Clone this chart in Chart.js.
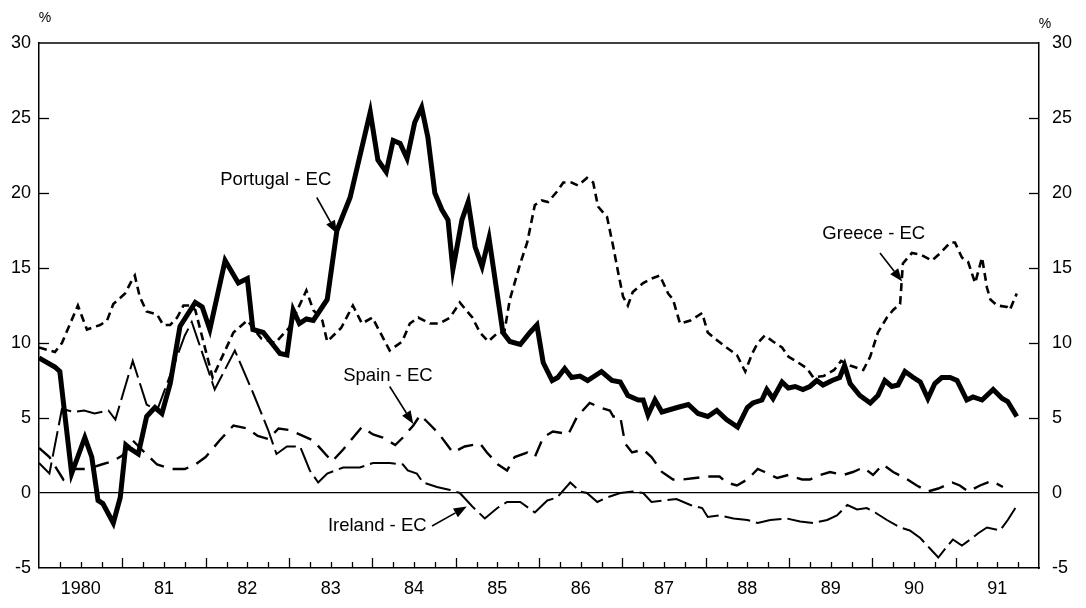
<!DOCTYPE html>
<html><head><meta charset="utf-8">
<script src="https://cdn.jsdelivr.net/npm/chart.js@4/dist/chart.umd.min.js"></script>
<style>html,body{margin:0;padding:0;background:#fff}#wrap{width:1086px;height:608px;position:relative}</style>
</head><body><div id="wrap"><canvas id="c" width="1086" height="608"></canvas></div>
<script>
// x = months since January 1980
const yearLabels = ['1980','81','82','83','84','85','86','87','88','89','90','91'];
const yTicks = [-5,0,5,10,15,20,25,30];

const portugalMonths = [0,2.3,3,4.7,6.6,7.6,8.5,9.2,10.7,11.7,12.5,13,14.3,15.5,16.7,17.7,18.9,20.3,22.5,23.5,24.6,26.8,28.7,30,30.8,32.3,33.5,34.7,35.7,36.6,37.5,38.5,39.5,40.5,41.5,42.9,44.8,47.7,48.8,50,51,52,53,54.1,55.1,56,57,58,58.9,59.6,60.9,61.8,62.8,63.8,64.8,66.1,66.8,67.8,69.3,70.7,71.7,72.6,73.9,74.7,75.7,76.7,77.9,79,81,82.5,83.7,84.8,86.3,87,87.7,88.7,89.7,91.9,93.5,94.9,96.3,97.6,99,100.6,102,102.8,104.1,104.8,105.7,107,107.9,108.9,110,111,112,112.9,114.2,115.3,116,116.8,118.2,119.7,120.8,121.8,122.8,123.7,124.7,125.9,126.9,128,129,130,131.2,132.2,133.6,134.5,135.8,137.4,138.7,139.5,140.8];
const portugalValues = [9.0,8.4,8.1,1.3,3.7,2.4,-0.5,-0.7,-2.0,-0.3,3.2,3.0,2.6,5.1,5.7,5.3,7.3,11.1,12.7,12.4,10.9,15.5,14.0,14.3,10.9,10.7,10.0,9.3,9.2,12.2,11.3,11.6,11.5,12.2,12.9,17.5,19.7,25.4,22.2,21.4,23.5,23.3,22.3,24.7,25.7,23.7,20.0,18.9,18.2,14.9,18.2,19.4,16.4,15.1,17.0,12.9,10.7,10.1,9.9,10.7,11.2,8.7,7.5,7.7,8.3,7.7,7.8,7.5,8.1,7.5,7.4,6.5,6.2,6.2,5.2,6.2,5.4,5.7,5.9,5.3,5.1,5.5,4.9,4.4,5.7,6.0,6.2,6.9,6.3,7.4,7.0,7.1,6.9,7.1,7.5,7.2,7.5,7.7,8.5,7.3,6.5,6.0,6.5,7.5,7.1,7.2,8.1,7.7,7.4,6.3,7.3,7.7,7.7,7.5,6.2,6.4,6.2,6.9,6.3,6.1,5.1];

const greeceMonths = [0,2.3,3.3,5.6,6.9,8.8,9.8,10.7,12.4,13.4,13.8,14.5,15.5,17,17.9,18.9,19.9,20.8,21.7,22.5,25,28,30,32,34,36,37.5,38.5,39.5,40.8,41.5,43.5,45.2,46.5,48,50.5,52.3,53.4,54.6,56.3,57.7,59.2,60.6,62.4,63.5,64.7,66.1,67,67.8,69.3,70.3,71.4,72.4,73.3,74.6,75.5,76.7,77.6,78.9,79.8,80.5,81.8,82.7,83.4,84.1,84.8,85.5,87,88.2,89.4,90.6,91.3,92.3,93.8,95.5,96.3,97.6,99,100.5,101.7,102.7,103.5,104.5,105.7,107,107.9,109.3,110.6,111.5,113,114.5,115.5,116.8,118.7,119.7,120.8,122.1,123,124,124.4,125.7,126.9,128.6,129.8,131.2,131.9,132.9,133.8,134.8,135.8,136.5,137,138,139.4,139.8,140.8];
const greeceValues = [9.7,9.4,10.0,12.5,10.9,11.2,11.5,12.6,13.3,14.2,14.5,13.1,12.1,11.9,11.2,11.2,11.7,12.5,12.5,12.2,7.7,10.7,11.5,10.3,10.0,11.0,12.5,13.5,12.2,11.5,10.1,11.0,12.5,11.3,11.7,9.5,10.1,11.3,11.7,11.3,11.3,11.7,12.7,11.7,10.7,10.1,10.7,10.7,12.9,15.3,16.7,19.2,19.5,19.4,20.1,20.7,20.7,20.5,21.0,20.7,19.1,18.4,16.4,14.7,13.1,12.5,13.4,14.0,14.3,14.5,13.3,12.9,11.3,11.5,12.0,10.7,10.2,9.7,9.2,8.1,9.3,10.0,10.5,10.1,9.7,9.1,8.7,8.3,7.7,7.8,8.2,8.8,8.5,8.2,9.1,10.7,11.7,12.2,12.6,15.3,16.0,15.9,15.5,16.0,16.7,16.7,15.7,15.4,14.0,15.7,13.7,12.9,12.5,12.4,12.2,13.3];

const spainMonths = [0,1.5,3.5,5,7,9,10.5,12,13.5,15,17,19,21,22.5,24,26,28,30,31.5,33,34.5,36.1,39.5,42.2,43.8,46.5,48.1,49.5,51.3,52.4,53.9,54.9,56,57.5,59.6,61.3,63.5,64.5,66.1,67.4,68.5,70.3,71.4,72.6,74,75.3,76.2,77.5,79.3,80.8,82.2,82.7,83.7,84.4,85.4,87,88.2,89.7,91.3,92.7,94.5,96.2,98,99,100.5,102,103.5,104.5,106.3,107.9,109.9,111,112.5,113.9,115.8,117.2,118.7,120.1,121.5,123,124.7,126.4,128,129.5,131.5,132.6,133.8,135.5,137.2,138.8];
const spainValues = [3.0,2.4,0.9,1.6,1.6,1.9,2.1,2.5,3.5,2.8,1.9,1.6,1.6,1.9,2.4,3.5,4.5,4.3,3.8,3.6,4.3,4.2,3.5,2.1,2.9,4.4,3.9,3.7,3.2,3.7,4.5,5.2,4.7,4.0,2.7,3.1,3.3,2.7,1.9,1.5,2.4,2.7,2.4,3.7,4.1,4.0,3.9,5.1,6.0,5.7,5.5,5.1,5.1,3.3,2.7,2.9,2.4,1.4,0.9,0.9,1.0,1.1,1.1,0.7,0.5,0.9,1.6,1.4,1.0,1.2,0.9,0.9,1.2,1.4,1.2,1.4,1.7,1.2,1.9,1.4,1.0,0.5,0.1,0.3,0.7,0.5,0.1,0.5,0.8,0.4];

const irelandMonths = [0,1.5,3.3,5,6.5,8,10,11,13.5,15.5,17,19,21,22,25.3,28.2,30.8,33,34.2,35.7,37.6,39,40.2,41.5,43.8,46.2,48.1,50.5,52.4,53.1,54.4,55.3,57.3,59.2,60.6,62.4,64.2,66,67.4,69.3,71.4,73.2,74.6,76.5,77.9,78.9,80.4,81.8,83.7,85.5,87,88.2,89.9,91.8,93.8,95.5,96.3,98,100,102,103.5,105.3,107.7,109.6,111.5,113.5,114.9,116.4,117.8,119.2,120.4,122.1,124,125.4,126.9,128.3,129.5,130.7,131.6,132.9,134.1,135.2,136.5,138.4,139.5,140.6];
const irelandValues = [2.0,1.3,5.6,5.4,5.5,5.3,5.5,4.9,8.8,5.9,5.5,8.0,10.5,11.4,6.9,9.5,6.7,4.2,2.6,3.1,3.1,1.5,0.7,1.3,1.7,1.7,2.0,2.0,1.9,1.5,1.3,0.7,0.4,0.2,0.0,-0.9,-1.7,-1.0,-0.6,-0.6,-1.3,-0.5,-0.3,0.7,0.1,0.0,-0.6,-0.3,0.0,0.1,0.0,-0.6,-0.5,-0.4,-0.8,-1.0,-1.6,-1.5,-1.7,-1.8,-2.0,-1.8,-1.7,-1.9,-2.0,-1.8,-1.5,-0.8,-1.1,-1.0,-1.3,-1.8,-2.3,-2.5,-3.0,-3.7,-4.3,-3.6,-3.1,-3.5,-3.1,-2.7,-2.3,-2.5,-1.8,-1.0];

// annotation labels: [text, textX(month), textY(value), arrow from (m,v), arrow to (m,v)]
const notes = [
  ['Portugal - EC', 26.1, 20.9, 40.0, 19.7, 42.9, 17.3],
  ['Spain - EC', 43.8, 7.8, 50.5, 7.1, 53.9, 4.6],
  ['Ireland - EC', 41.6, -2.2, 56.6, -2.2, 61.6, -0.9],
  ['Greece - EC', 112.8, 17.3, 121.1, 16.0, 124.3, 14.1]
];

const pts = (m, v) => m.map((x, i) => ({x, y: v[i]}));
const FONT = '"Liberation Sans", Arial, Helvetica, sans-serif';

const frame = {
  id: 'frame',
  afterDatasetsDraw(chart) {
    const {ctx, chartArea: a, scales} = chart;
    const x = scales.x, y = scales.y;
    ctx.save();
    ctx.strokeStyle = '#000';
    ctx.lineWidth = 1.5;
    ctx.beginPath();
    ctx.moveTo(a.left, a.top); ctx.lineTo(a.right, a.top);
    ctx.stroke();
    // x tick marks (inward)
    ctx.lineWidth = 1.3;
    for (let m = 3; m < 144; m += 3) {
      const px = Math.round(x.getPixelForValue(m)) + 0.5;
      const len = m % 12 === 0 ? 10 : 6;
      ctx.beginPath(); ctx.moveTo(px, a.bottom); ctx.lineTo(px, a.bottom - len); ctx.stroke();
    }
    // y tick marks (inward on both sides)
    for (const v of yTicks) {
      if (v === -5 || v === 30 || v === 0) continue;
      const py = Math.round(y.getPixelForValue(v)) + 0.5;
      ctx.beginPath(); ctx.moveTo(a.left, py); ctx.lineTo(a.left + 10, py); ctx.stroke();
      ctx.beginPath(); ctx.moveTo(a.right, py); ctx.lineTo(a.right - 10, py); ctx.stroke();
    }
    // % units
    ctx.fillStyle = '#000';
    ctx.font = '14px ' + FONT;
    ctx.textAlign = 'center'; ctx.textBaseline = 'middle';
    ctx.fillText('%', a.left + 6, 18);
    ctx.fillText('%', a.right + 6, 24);
    // annotations
    ctx.font = '18.5px ' + FONT;
    ctx.textAlign = 'left';
    for (const [t, tm, tv, fm, fv, em, ev] of notes) {
      ctx.fillText(t, x.getPixelForValue(tm), y.getPixelForValue(tv));
      const x1 = x.getPixelForValue(fm), y1 = y.getPixelForValue(fv);
      const x2 = x.getPixelForValue(em), y2 = y.getPixelForValue(ev);
      const ang = Math.atan2(y2 - y1, x2 - x1);
      const hl = 13, hw = 5;
      const bx = x2 - hl * Math.cos(ang), by = y2 - hl * Math.sin(ang);
      ctx.lineWidth = 1.6;
      ctx.beginPath(); ctx.moveTo(x1, y1); ctx.lineTo(bx, by); ctx.stroke();
      ctx.beginPath();
      ctx.moveTo(x2, y2);
      ctx.lineTo(bx + hw * Math.sin(ang), by - hw * Math.cos(ang));
      ctx.lineTo(bx - hw * Math.sin(ang), by + hw * Math.cos(ang));
      ctx.closePath(); ctx.fill();
    }
    ctx.restore();
  }
};

const common = {pointRadius: 0, tension: 0, fill: false, borderColor: '#000', yAxisID: 'y'};

new Chart(document.getElementById('c'), {
  type: 'line',
  data: {
    datasets: [
      {...common, label: 'Portugal - EC', data: pts(portugalMonths, portugalValues), borderWidth: 5},
      {...common, label: 'Greece - EC', data: pts(greeceMonths, greeceValues), borderWidth: 2.6, borderDash: [8, 5]},
      {...common, label: 'Spain - EC', data: pts(spainMonths, spainValues), borderWidth: 2.4, borderDash: [16, 9]},
      {...common, label: 'Ireland - EC', data: pts(irelandMonths, irelandValues), borderWidth: 2, borderDash: [26, 6]}
    ]
  },
  options: {
    responsive: false,
    animation: false,
    devicePixelRatio: 1,
    layout: {padding: {top: 43, left: 0, right: 0, bottom: 0}},
    plugins: {legend: {display: false}, tooltip: {enabled: false}},
    scales: {
      x: {
        type: 'linear', min: 0, max: 144,
        afterFit: s => { s.height = 40; },
        afterBuildTicks: s => { s.ticks = yearLabels.map((_, i) => ({value: 6 + 12 * i})); },
        ticks: {autoSkip: false, maxRotation: 0, padding: 10, color: '#000',
          font: {family: FONT, size: 18},
          callback: (v) => yearLabels[Math.round((v - 6) / 12)]},
        grid: {display: true, drawOnChartArea: false, drawTicks: false},
        border: {display: true, color: '#000', width: 1.5}
      },
      y: {
        type: 'linear', position: 'left', min: -5, max: 30,
        afterFit: s => { s.width = 39; },
        ticks: {stepSize: 5, padding: 8, color: '#000', font: {family: FONT, size: 18}},
        grid: {drawTicks: false, lineWidth: 1.3,
          color: c => (c.tick && c.tick.value === 0) ? '#000' : 'rgba(0,0,0,0)'},
        border: {display: true, color: '#000', width: 1.5}
      },
      y2: {
        type: 'linear', position: 'right', min: -5, max: 30,
        afterFit: s => { s.width = 47; },
        ticks: {stepSize: 5, padding: 13, color: '#000', font: {family: FONT, size: 18}},
        grid: {drawOnChartArea: false, drawTicks: false},
        border: {display: true, color: '#000', width: 1.5}
      }
    }
  },
  plugins: [frame]
});
</script>
</body></html>
